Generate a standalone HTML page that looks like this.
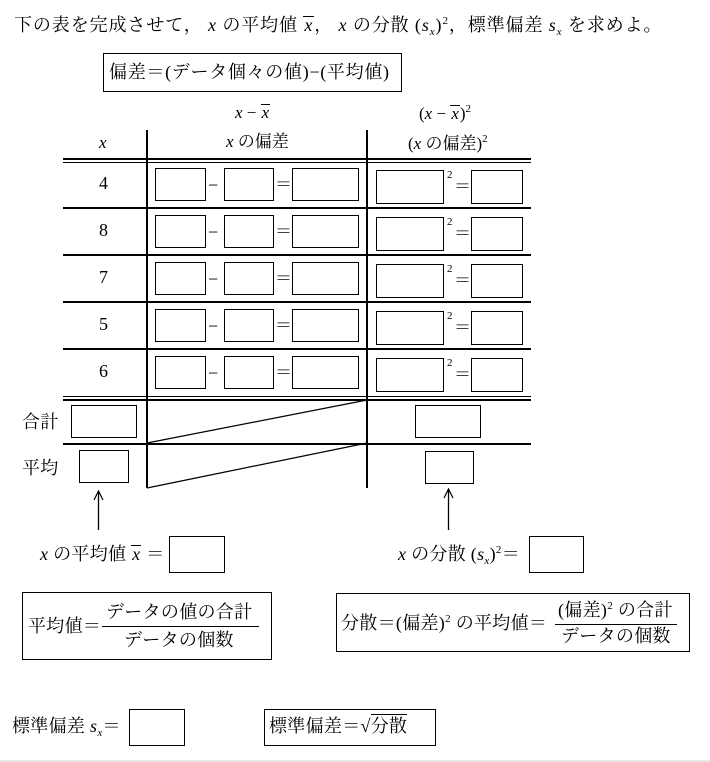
<!DOCTYPE html>
<html><head><meta charset="utf-8"><style>
body{margin:0;width:710px;height:762px;background:#fff;position:relative;overflow:hidden;font-family:"Liberation Serif","Noto Serif CJK JP",serif;color:#000}
.b{position:absolute;border:1.5px solid #000;box-sizing:border-box}
.t{position:absolute;font-size:17px;white-space:nowrap;line-height:1}
.L{font-size:18px;letter-spacing:0.3px}
.h{position:absolute;height:1.5px;background:#000}
.v{position:absolute;width:1.5px;background:#000}
i{font-style:italic;font-family:"Liberation Serif",serif}
sup{font-size:11px;vertical-align:7px}
sub{font-size:11px;vertical-align:-4px}
.ov{border-top:1.3px solid #000;padding:0 1px;display:inline-block;line-height:0.9}
</style></head><body>
<div class="t L" style="left:14px;top:16px;letter-spacing:0.9px">下の表を完成させて， <i>x</i> の平均値 <i class="ov">x</i>， <i>x</i> の分散 (<i>s</i><sub><i>x</i></sub>)<sup>2</sup>，標準偏差 <i>s</i><sub><i>x</i></sub> を求めよ。</div>
<div class="b" style="left:103px;top:53px;width:299px;height:39px"></div>
<div class="t L" style="left:109px;top:63px;letter-spacing:0.7px">偏差＝(データ個々の値)−(平均値)</div>

<div class="t" style="left:235px;top:104px"><i>x</i> − <i class="ov">x</i></div>
<div class="t" style="left:419px;top:104px">(<i>x</i> − <i class="ov">x</i>)<sup>2</sup></div>
<div class="t" style="left:99px;top:134px"><i>x</i></div>
<div class="t" style="left:226px;top:133px"><i>x</i> の偏差</div>
<div class="t" style="left:408px;top:134px">(<i>x</i> の偏差)<sup>2</sup></div>

<div class="v" style="left:146px;top:130px;height:358px"></div>
<div class="v" style="left:366px;top:130px;height:358px"></div>
<div class="h" style="left:63px;top:158px;width:468px"></div>
<div class="h" style="left:63px;top:161.5px;width:468px"></div>
<div class="h" style="left:63px;top:207px;width:468px"></div>
<div class="h" style="left:63px;top:254px;width:468px"></div>
<div class="h" style="left:63px;top:301px;width:468px"></div>
<div class="h" style="left:63px;top:348px;width:468px"></div>
<div class="h" style="left:63px;top:395.5px;width:468px"></div>
<div class="h" style="left:63px;top:399px;width:468px"></div>
<div class="h" style="left:63px;top:443px;width:468px"></div>

<div id="rows"></div>
<script>
var vals=[4,8,7,5,6],h='';
for(var k=0;k<5;k++){var y=168+k*47;
h+='<div class="t" style="left:99px;top:'+(y+6)+'px;font-size:18px">'+vals[k]+'</div>';
h+='<div class="b" style="left:155px;top:'+y+'px;width:51px;height:33px"></div>';
h+='<div class="t" style="left:208px;top:'+(y+8)+'px;font-size:18px">−</div>';
h+='<div class="b" style="left:224px;top:'+y+'px;width:50px;height:33px"></div>';
h+='<div class="t" style="left:275px;top:'+(y+8)+'px;font-size:17px">＝</div>';
h+='<div class="b" style="left:292px;top:'+y+'px;width:67px;height:33px"></div>';
h+='<div class="b" style="left:376px;top:'+(y+2)+'px;width:68px;height:34px"></div>';
h+='<div class="t" style="left:447px;top:'+(y+2)+'px;font-size:11px">2</div>';
h+='<div class="t" style="left:454px;top:'+(y+10)+'px;font-size:17px">＝</div>';
h+='<div class="b" style="left:471px;top:'+(y+2)+'px;width:52px;height:34px"></div>';}
document.getElementById('rows').innerHTML=h;
</script>

<div class="t L" style="left:22px;top:413px">合計</div>
<div class="b" style="left:71px;top:405px;width:66px;height:33px"></div>
<div class="b" style="left:415px;top:405px;width:66px;height:33px"></div>
<div class="t L" style="left:22px;top:459px">平均</div>
<div class="b" style="left:79px;top:450px;width:50px;height:33px"></div>
<div class="b" style="left:425px;top:451px;width:49px;height:33px"></div>

<svg style="position:absolute;left:0;top:0" width="710" height="762">
<line x1="147" y1="443" x2="367" y2="400" stroke="#000" stroke-width="1.2"/>
<line x1="147" y1="488" x2="367" y2="443" stroke="#000" stroke-width="1.2"/>
<line x1="98.5" y1="530" x2="98.5" y2="491" stroke="#000" stroke-width="1.3"/>
<polyline points="94,500 98.5,491 103,500" fill="none" stroke="#000" stroke-width="1.2"/>
<line x1="448.5" y1="530" x2="448.5" y2="489" stroke="#000" stroke-width="1.3"/>
<polyline points="444,498 448.5,489 453,498" fill="none" stroke="#000" stroke-width="1.2"/>
<line x1="0" y1="761" x2="710" y2="761" stroke="#e6e6e6" stroke-width="2"/>
</svg>

<div class="t L" style="left:40px;top:545px"><i>x</i> の平均値 <i class="ov">x</i> ＝</div>
<div class="b" style="left:169px;top:536px;width:56px;height:37px"></div>
<div class="t L" style="left:398px;top:545px"><i>x</i> の分散 (<i>s</i><sub><i>x</i></sub>)<sup>2</sup>＝</div>
<div class="b" style="left:529px;top:536px;width:55px;height:37px"></div>

<div class="b" style="left:22px;top:592px;width:250px;height:68px"></div>
<div class="t L" style="left:28px;top:617px">平均値＝</div>
<div class="t L" style="left:106px;top:603px">データの値の合計</div>
<div class="h" style="left:102px;top:626px;width:157px;height:1.2px"></div>
<div class="t L" style="left:124px;top:631px">データの個数</div>

<div class="b" style="left:336px;top:593px;width:354px;height:59px"></div>
<div class="t L" style="left:341px;top:614px">分散＝(偏差)<sup>2</sup> の平均値＝</div>
<div class="t L" style="left:558px;top:601px">(偏差)<sup>2</sup> の合計</div>
<div class="h" style="left:555px;top:624px;width:122px;height:1.2px"></div>
<div class="t L" style="left:561px;top:627px">データの個数</div>

<div class="t L" style="left:12px;top:717px">標準偏差 <i>s</i><sub><i>x</i></sub>＝</div>
<div class="b" style="left:129px;top:709px;width:56px;height:37px"></div>
<div class="b" style="left:264px;top:709px;width:172px;height:37px"></div>
<div class="t L" style="left:269px;top:717px">標準偏差＝√<span style="border-top:1.3px solid #000;padding-top:1px">分散</span></div>
</body></html>
